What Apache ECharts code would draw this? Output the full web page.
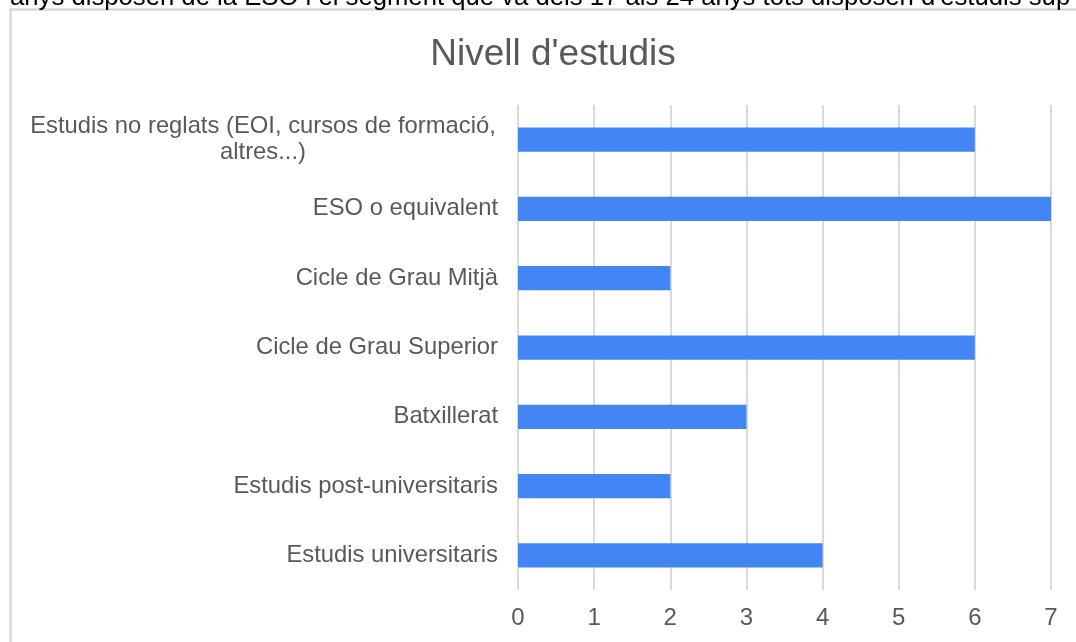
<!DOCTYPE html>
<html>
<head>
<meta charset="utf-8">
<script src="https://cdn.jsdelivr.net/npm/echarts@6/dist/echarts.min.js"></script>
<style>
html, body { margin: 0; padding: 0; background: #fff; }
#chart { width: 1076px; height: 642px; }
</style>
</head>
<body>
<div id="chart"></div>
<script>
// categories, top to bottom
var categories = [
	'Estudis no reglats (EOI, cursos de formació, altres...)',
	'ESO o equivalent',
	'Cicle de Grau Mitjà',
	'Cicle de Grau Superior',
	'Batxillerat',
	'Estudis post-universitaris',
	'Estudis universitaris'
];
var values = [6, 7, 2, 6, 3, 2, 4];
var xTicks = [0, 1, 2, 3, 4, 5, 6, 7];
var titleText = "Nivell d'estudis";
var pageText = "anys disposen de la ESO i el segment que va dels 17 als 24 anys tots disposen d'estudis sup";

var chart = echarts.init(document.getElementById('chart'));
var fontFamily = 'Arial, "Liberation Sans", sans-serif';

var option = {
	animation: false,
	backgroundColor: '#fff',
	title: {
		text: titleText,
		left: 548,
		textAlign: 'center',
		top: 31,
		textStyle: {
			fontFamily: fontFamily,
			fontSize: 37,
			fontWeight: 'normal',
			color: '#595959'
		}
	},
	graphic: [{
		//页面上被截掉的一行字
		type: 'text',
		style: {
			text: pageText,
			x: 10,
			y: 11,
			textVerticalAlign: 'bottom',
			font: '25.7px ' + fontFamily,
			fill: '#000'
		}
	}, {
		//图表外框
		type: 'rect',
		shape: { x: 10.5, y: 9.5, width: 1100, height: 700 },
		style: { fill: '#fff', stroke: '#d9d9d9', lineWidth: 2.5 },
		silent: true,
		z: -1
	}],
	grid: {
		left: 518,
		right: 25,
		top: 105,
		bottom: 52
	},
	xAxis: {
		type: 'value',
		min: xTicks[0],
		max: xTicks[xTicks.length - 1],
		interval: 1,
		axisLine: { show: false },
		axisTick: { show: false },
		splitLine: {
			lineStyle: { color: '#d9d9d9', width: 2 }
		},
		axisLabel: {
			margin: 16,
			fontFamily: fontFamily,
			fontSize: 24,
			color: '#595959'
		}
	},
	yAxis: {
		type: 'category',
		inverse: true,
		data: categories,
		axisLine: { show: false },
		axisTick: { show: false },
		axisLabel: {
			margin: 20,
			fontFamily: fontFamily,
			fontSize: 23.8,
			color: '#595959',
			lineHeight: 26,
			formatter: function(value, index) {
				if (index === 0) {
					return '{c|Estudis no reglats (EOI, cursos de formació,}\n{c|altres...)}';
				}
				return value;
			},
			rich: {
				c: {
					width: 470,
					align: 'center',
					fontFamily: fontFamily,
					fontSize: 23.8,
					color: '#595959',
					lineHeight: 26
				}
			}
		}
	},
	series: [{
		type: 'bar',
		data: values,
		barCategoryGap: '65%',
		itemStyle: { color: '#4285f4' }
	}]
};
chart.setOption(option);
</script>
</body>
</html>
